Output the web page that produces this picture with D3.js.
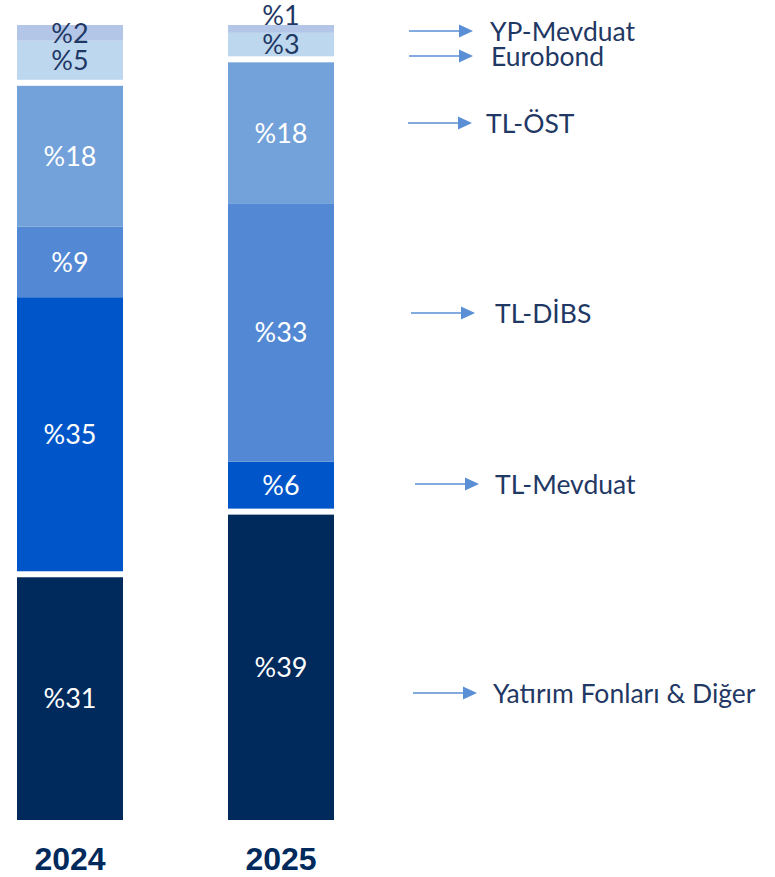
<!DOCTYPE html>
<html lang="tr">
<head>
<meta charset="utf-8">
<script src="https://cdn.jsdelivr.net/npm/d3@7"></script>
<style>
  html, body { margin: 0; padding: 0; background: #ffffff; }
  svg { display: block; }
</style>
</head>
<body>
<svg id="chart" width="775" height="877"></svg>
<script>
// Portfolio breakdown by year, stacked from the bottom up
const years = ["2024", "2025"];
const categories = ["Yatırım Fonları & Diğer", "TL-Mevduat", "TL-DİBS", "TL-ÖST", "Eurobond", "YP-Mevduat"];
const values2024 = [31, 35, 9, 18, 5, 2];
const values2025 = [39, 6, 33, 18, 3, 1];
const seriesByYear = { "2024": values2024, "2025": values2025 };

const colors = ["#00295C", "#0056C9", "#5389D4", "#73A1D9", "#BDD7EE", "#B3C6E7"];
const lightSegments = new Set([4, 5]);   // segments with dark label text
const gapAfter = new Set([0, 3]);        // white separation above these segments

const navy = "#1F3864";
const arrowBlue = "#5A8FD6";

const svg = d3.select("#chart");

const bottom = 820, barsHeight = 783, gap = 6;

const x = d3.scaleBand()
  .domain(years)
  .range([17, 334])
  .paddingInner(0.4976)
  .paddingOuter(0);

const h = d3.scaleLinear().domain([0, 100]).range([0, barsHeight]);

// Build stacked segments with separation gaps
const segments = [];
years.forEach(year => {
  let cursor = bottom;
  seriesByYear[year].forEach((v, i) => {
    const height = h(v);
    const y1 = cursor, y0 = cursor - height;
    segments.push({ year, i, v, y0, y1 });
    cursor = y0 - (gapAfter.has(i) ? gap : 0);
  });
});

svg.append("g").selectAll("rect")
  .data(segments)
  .join("rect")
  .attr("x", d => x(d.year))
  .attr("width", x.bandwidth())
  .attr("y", d => d.y0)
  .attr("height", d => d.y1 - d.y0)
  .attr("fill", d => colors[d.i]);

// Value labels: centred, pushed upward when crowding the label below
const labelMinSpacing = 26;
years.forEach(year => {
  const segs = segments.filter(s => s.year === year);
  let prevY = null;
  segs.forEach(s => {
    let cy = (s.y0 + s.y1) / 2;
    if (prevY !== null && prevY - cy < labelMinSpacing) cy = prevY - 29;
    s.labelY = cy;
    prevY = cy;
  });
});

svg.append("g").selectAll("text")
  .data(segments)
  .join("text")
  .attr("x", d => x(d.year) + x.bandwidth() / 2)
  .attr("y", d => d.labelY)
  .attr("dy", "0.36em")
  .attr("text-anchor", "middle")
  .attr("font-family", "Lato, 'Noto Sans', sans-serif")
  .attr("font-weight", 400)
  .attr("font-size", 27)
  .attr("fill", d => lightSegments.has(d.i) ? navy : "#ffffff")
  .text(d => "%" + d.v);

// Year labels under the bars
svg.append("g").selectAll("text")
  .data(years)
  .join("text")
  .attr("x", d => x(d) + x.bandwidth() / 2)
  .attr("y", 870)
  .attr("text-anchor", "middle")
  .attr("font-family", "'Liberation Sans', Arial, sans-serif")
  .attr("font-weight", 700)
  .attr("font-size", 32)
  .attr("fill", "#00295C")
  .text(d => d);

// Legend: arrow pointing at each category name
const legendLayout = [
  { y: 693, x0: 413, tx: 493 },
  { y: 484, x0: 415, tx: 495 },
  { y: 313, x0: 411, tx: 495 },
  { y: 123, x0: 408, tx: 486 },
  { y: 56,  x0: 409, tx: 491 },
  { y: 31,  x0: 409, tx: 490 }
];

const legend = svg.append("g").selectAll("g")
  .data(categories)
  .join("g")
  .attr("transform", (d, i) => `translate(0,${legendLayout[i].y})`);

legend.append("line")
  .attr("x1", (d, i) => legendLayout[i].x0)
  .attr("x2", (d, i) => legendLayout[i].x0 + 52)
  .attr("y1", 0).attr("y2", 0)
  .attr("stroke", arrowBlue)
  .attr("stroke-width", 1.4);

legend.append("path")
  .attr("d", (d, i) => {
    const s = legendLayout[i].x0 + 50;
    return `M${s},-6.5L${s + 14},0L${s},6.5Z`;
  })
  .attr("fill", arrowBlue);

legend.append("text")
  .attr("x", (d, i) => legendLayout[i].tx)
  .attr("y", 0)
  .attr("dy", "0.36em")
  .attr("font-family", "Lato, 'Noto Sans', sans-serif")
  .attr("font-size", 26.5)
  .attr("fill", navy)
  .text(d => d);
</script>
</body>
</html>
